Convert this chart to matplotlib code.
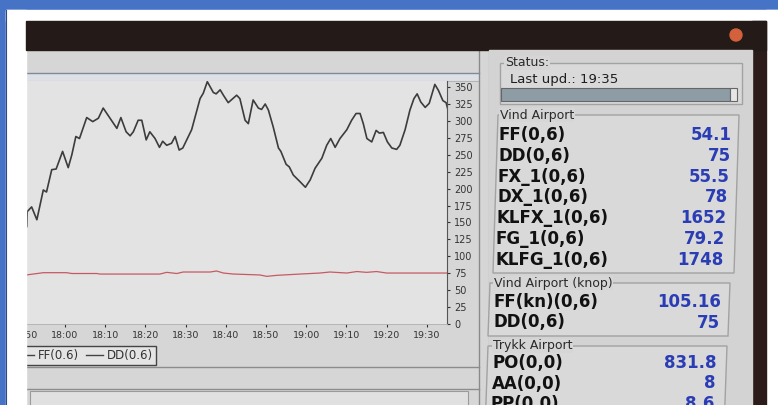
import matplotlib
matplotlib.use("Agg")
import matplotlib.pyplot as plt
from matplotlib.patches import Rectangle, Polygon, Circle
from matplotlib.lines import Line2D

# FF(0.6) wind speed, minutes after 18:00
ff_min = [-9.5, -9.4, -8.3, -7.0, -5.4, -4.6, -3.3, -2.2, -0.6, 0.8, 1.7, 2.7, 3.6, 5.4, 6.9,
          8.3, 9.5, 11.2, 12.9, 13.9, 15.2, 16.2, 17.0, 18.2, 19.1, 20.2, 21.1, 22.4, 23.5,
          24.3, 25.3, 26.5, 27.4, 28.4, 29.3, 31.5, 33.6, 34.4, 35.4, 36.9, 37.6, 38.6, 39.4,
          40.6, 42.7, 43.5, 44.8, 45.6, 46.8, 48.1, 48.9, 49.8, 50.6, 51.8, 53.1, 53.7, 55.0,
          55.8, 56.8, 58.5, 59.8, 61.0, 62.2, 63.9, 65.1, 66.1, 67.2, 68.4, 70.1, 71.3, 72.4,
          73.4, 74.2, 75.1, 76.3, 77.4, 78.2, 79.2, 80.2, 81.3, 82.5, 83.3, 84.6, 85.8, 86.8,
          87.6, 88.5, 89.6, 90.6, 92.0, 92.9, 94.0, 94.8, 95.2]
ff_val = [144, 166, 173, 154, 198, 195, 228, 229, 255, 231, 250, 277, 274, 305, 299,
          304, 319, 304, 289, 305, 284, 278, 284, 301, 301, 272, 284, 274, 261,
          270, 264, 267, 277, 257, 260, 287, 333, 341, 358, 342, 340, 346, 338,
          327, 338, 333, 301, 296, 331, 319, 317, 325, 316, 291, 260, 255, 236,
          232, 220, 210, 202, 213, 230, 245, 264, 274, 261, 274, 287, 301, 311,
          311, 296, 274, 269, 286, 282, 283, 269, 260, 258, 264, 287, 316, 333,
          340, 328, 320, 326, 354, 345, 330, 327, 318]

# DD(0.6) wind direction
dd_min = [-13.5, -9.7, -5.4, 0.4, 1.7, 7.9, 8.7, 23.6, 25.3, 27.8, 29.4, 36.1, 37.7, 39.4,
          41.9, 46.8, 48.5, 50.2, 52.7, 58.5, 63.4, 65.9, 70.1, 72.6, 75.0, 77.5, 80.0, 95.2]
dd_val = [72, 72.4, 75.8, 75.8, 74.6, 74.6, 73.8, 73.8, 76.3, 74.6, 76.8, 76.8, 78.3, 75.3,
          73.8, 72.8, 72.4, 70.4, 71.9, 73.8, 75.3, 76.8, 75.3, 77.5, 76.3, 77.5, 75.3, 75.3]

x_ticks = [-10, 0, 10, 20, 30, 40, 50, 60, 70, 80, 90]
x_labels = ["17:50", "18:00", "18:10", "18:20", "18:30", "18:40", "18:50",
            "19:00", "19:10", "19:20", "19:30"]
y_ticks = list(range(0, 351, 25))

# side panel
status_text = "Last upd.: 19:35"
wind_labels = ["FF(0,6)", "DD(0,6)", "FX_1(0,6)", "DX_1(0,6)", "KLFX_1(0,6)", "FG_1(0,6)", "KLFG_1(0,6)"]
wind_values = ["54.1", "75", "55.5", "78", "1652", "79.2", "1748"]
knop_labels = ["FF(kn)(0,6)", "DD(0,6)"]
knop_values = ["105.16", "75"]
press_labels = ["PO(0,0)", "AA(0,0)", "PP(0,0)"]
press_values = ["831.8", "8", "8.6"]

W, H = 778, 405
fig = plt.figure(figsize=(W / 100, H / 100), dpi=100)
fig.patch.set_facecolor("#4673c6")

# background (screen) in pixel coords
bg = fig.add_axes([0, 0, 1, 1], zorder=0)
bg.set_xlim(0, W)
bg.set_ylim(H, 0)
bg.axis("off")
bg.add_patch(Rectangle((0, 0), W, H, color="#4673c6"))
bg.add_patch(Rectangle((6, 10), W, H, color="#ffffff"))
bg.add_patch(Rectangle((26, 21), 740, H, color="#241a18"))
bg.add_patch(Rectangle((26, 50), 726, H, color="#d6d6d6"))
bg.add_patch(Rectangle((26, 73), 453, 8, color="#dde1e5"))
bg.plot([26, 479], [73, 73], color="#7d8b97", lw=1)
bg.plot([26, 479], [81, 81], color="#b4b4b4", lw=0.8)
bg.plot([479, 479], [50, H], color="#8a8a8a", lw=1)
bg.plot([489, 489], [50, H], color="#b8b8b8", lw=1)
bg.plot([26, 479], [367, 367], color="#8c8c8c", lw=1)
bg.plot([26, 479], [389, 389], color="#8c8c8c", lw=1)
bg.add_patch(Rectangle((30, 391), 438, 20, facecolor="#e0e0e0", edgecolor="#9a9a9a", lw=0.8))

# chart
t_left = (10 - 65) / 4.02
t_right = (447 - 65) / 4.02
ax = fig.add_axes([10 / W, (H - 324) / H, 437 / W, 243 / H], zorder=1)
ax.set_facecolor("#e3e3e3")
ax.plot(ff_min, ff_val, color="#3c3c3c", lw=1.2, label="FF(0.6)")
ax.plot(dd_min, dd_val, color="#c55a62", lw=0.9, label="DD(0.6)")
ax.set_xlim(t_left, t_right)
ax.set_ylim(0, 359)
ax.set_xticks(x_ticks)
ax.set_xticklabels(x_labels)
ax.set_yticks(y_ticks)
ax.yaxis.tick_right()
ax.tick_params(axis="x", labelsize=6.8, length=2, pad=3, colors="#333333")
ax.tick_params(axis="y", labelsize=7, length=2.5, pad=2.5, colors="#333333")
for s in ["top", "left"]:
    ax.spines[s].set_visible(False)
ax.spines["right"].set_color("#555555")
ax.spines["bottom"].set_color("#b0b0b0")
ax.spines["bottom"].set_linewidth(0.6)
handles = [Line2D([], [], color="#444444", lw=1), Line2D([], [], color="#444444", lw=1)]
leg = ax.legend(handles, ["FF(0.6)", "DD(0.6)"], loc="upper right", ncol=2, fontsize=8.5,
                bbox_to_anchor=(156 / W, (H - 346) / H), bbox_transform=fig.transFigure,
                handlelength=1.4, handletextpad=0.35, columnspacing=0.6, borderpad=0.25,
                borderaxespad=0, fancybox=False, framealpha=1)
leg.get_frame().set_facecolor("#e4e4e4")
leg.get_frame().set_edgecolor("#444444")
for txt in leg.get_texts():
    txt.set_color("#333333")

# foreground: photo frame, window bar and side panel
fg = fig.add_axes([0, 0, 1, 1], zorder=2)
fg.set_xlim(0, W)
fg.set_ylim(H, 0)
fg.axis("off")
fg.patch.set_alpha(0)
fg.add_patch(Rectangle((0, 0), 6, H, color="#4673c6"))
fg.add_patch(Rectangle((0, 0), W, 10, color="#4673c6"))
fg.add_patch(Rectangle((6, 10), 20, H, color="#ffffff"))
fg.add_patch(Rectangle((6, 10), W, 11, color="#ffffff"))
fg.add_patch(Rectangle((766, 10), 12, H, color="#ffffff"))
fg.add_patch(Rectangle((752, 21), 14, H, color="#2b1c1a"))
fg.add_patch(Rectangle((26, 21), 740, 29, color="#241a18"))
fg.add_patch(Circle((736, 35), 6, color="#d2613c"))
fg.add_patch(Rectangle((489, 50), 263, H, color="#d3d3d3"))
fg.plot([6, 6], [10, H], color="#2c4a86", lw=0.8)


def group(x0, x1, y0, y1, shift, title, tx):
    fg.add_patch(Polygon([(x0, y0), (x1, y0), (x1 - shift, y1), (x0 - shift, y1)], closed=True,
                         facecolor="#d9d9d9", edgecolor="#a2a2a2", lw=1))
    fg.text(tx, y0, title, fontsize=9, color="#2a2a2a", va="center", ha="left",
            bbox=dict(facecolor="#d6d6d6", edgecolor="none", pad=0.5))


def row(y, label, value):
    xl = 499 - (y - 135) * 0.03
    xr = 732 - (y - 135) * 0.066
    fg.text(xl, y, label, fontsize=12, fontweight="bold", color="#111111", va="center", ha="left")
    fg.text(xr, y, value, fontsize=12, fontweight="bold", color="#2b3db5", va="center", ha="right")


# Status box
group(500, 742, 63, 104, 0, "Status:", 505)
fg.text(510, 80, status_text, fontsize=9.5, color="#1e1e1e", va="center", ha="left")
fg.add_patch(Rectangle((501, 88), 229, 13, facecolor="#8e9ca6", edgecolor="#666666", lw=0.8))
fg.add_patch(Rectangle((730, 88), 7, 13, facecolor="#e6e6e6", edgecolor="#666666", lw=0.8))

# Vind Airport
group(498, 739, 115, 273, 5, "Vind Airport", 500)
for i in range(len(wind_labels)):
    row(135 + i * 20.8, wind_labels[i], wind_values[i])

# Vind Airport (knop)
group(490, 730, 283, 336, 2, "Vind Airport (knop)", 494)
for i in range(len(knop_labels)):
    row(302 + i * 20.5, knop_labels[i], knop_values[i])

# Trykk Airport
group(488, 727, 346, 430, 3, "Trykk Airport", 493)
for i in range(len(press_labels)):
    row(363 + i * 20.5, press_labels[i], press_values[i])

fig.savefig("out.png", dpi=100, facecolor=fig.get_facecolor())
